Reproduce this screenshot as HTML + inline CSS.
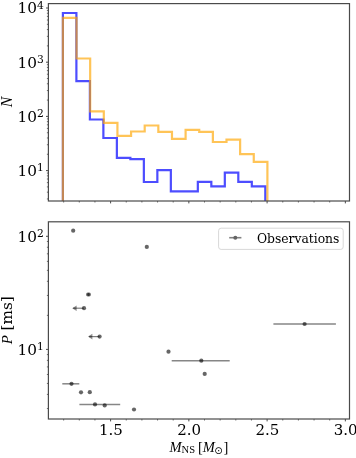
<!DOCTYPE html>
<html><head><meta charset="utf-8"><style>html,body{margin:0;padding:0;background:#fff;overflow:hidden}svg{display:block}</style></head>
<body>
<svg width="356" height="458" viewBox="0 0 356 458">
<g>
<rect width="356" height="458" fill="#fff"/>
<path d="M62.90,201.00 L62.90,13.00 L76.39,13.00 L76.39,81.20 L89.89,81.20 L89.89,119.50 L103.38,119.50 L103.38,138.00 L116.87,138.00 L116.87,157.80 L130.37,157.80 L130.37,159.10 L143.86,159.10 L143.86,182.00 L157.35,182.00 L157.35,170.20 L170.85,170.20 L170.85,191.30 L184.34,191.30 L184.34,191.30 L197.83,191.30 L197.83,181.90 L211.33,181.90 L211.33,186.40 L224.82,186.40 L224.82,172.60 L238.31,172.60 L238.31,181.80 L251.81,181.80 L251.81,186.30 L265.30,186.30 L265.30,201.00" fill="none" stroke="rgb(77,77,255)" stroke-width="2.2" stroke-linejoin="miter"/>
<path d="M62.90,201.00 L62.90,17.80 L76.53,17.80 L76.53,58.50 L90.17,58.50 L90.17,111.30 L103.80,111.30 L103.80,122.90 L117.43,122.90 L117.43,135.80 L131.07,135.80 L131.07,131.50 L144.70,131.50 L144.70,125.50 L158.33,125.50 L158.33,131.80 L171.97,131.80 L171.97,138.80 L185.60,138.80 L185.60,129.80 L199.23,129.80 L199.23,131.80 L212.87,131.80 L212.87,142.00 L226.50,142.00 L226.50,139.60 L240.13,139.60 L240.13,154.20 L253.77,154.20 L253.77,161.80 L267.40,161.80 L267.40,201.00" fill="none" stroke="rgb(255,165,0)" stroke-opacity="0.66" stroke-width="2.2" stroke-linejoin="miter"/>
<rect x="48.4" y="3.6" width="301.1" height="197.4" fill="none" stroke="#4a4a4a" stroke-width="1.2"/>
<rect x="48.4" y="221.8" width="301.1" height="197.2" fill="none" stroke="#4a4a4a" stroke-width="1.2"/>
<line x1="63.65" y1="201.0" x2="63.65" y2="202.5" stroke="#4a4a4a" stroke-width="0.8"/>
<line x1="79.30" y1="201.0" x2="79.30" y2="202.5" stroke="#4a4a4a" stroke-width="0.8"/>
<line x1="94.95" y1="201.0" x2="94.95" y2="202.5" stroke="#4a4a4a" stroke-width="0.8"/>
<line x1="110.60" y1="201.0" x2="110.60" y2="203.4" stroke="#4a4a4a" stroke-width="1.0"/>
<line x1="126.25" y1="201.0" x2="126.25" y2="202.5" stroke="#4a4a4a" stroke-width="0.8"/>
<line x1="141.90" y1="201.0" x2="141.90" y2="202.5" stroke="#4a4a4a" stroke-width="0.8"/>
<line x1="157.55" y1="201.0" x2="157.55" y2="202.5" stroke="#4a4a4a" stroke-width="0.8"/>
<line x1="173.20" y1="201.0" x2="173.20" y2="202.5" stroke="#4a4a4a" stroke-width="0.8"/>
<line x1="188.85" y1="201.0" x2="188.85" y2="203.4" stroke="#4a4a4a" stroke-width="1.0"/>
<line x1="204.50" y1="201.0" x2="204.50" y2="202.5" stroke="#4a4a4a" stroke-width="0.8"/>
<line x1="220.15" y1="201.0" x2="220.15" y2="202.5" stroke="#4a4a4a" stroke-width="0.8"/>
<line x1="235.80" y1="201.0" x2="235.80" y2="202.5" stroke="#4a4a4a" stroke-width="0.8"/>
<line x1="251.45" y1="201.0" x2="251.45" y2="202.5" stroke="#4a4a4a" stroke-width="0.8"/>
<line x1="267.10" y1="201.0" x2="267.10" y2="203.4" stroke="#4a4a4a" stroke-width="1.0"/>
<line x1="282.75" y1="201.0" x2="282.75" y2="202.5" stroke="#4a4a4a" stroke-width="0.8"/>
<line x1="298.40" y1="201.0" x2="298.40" y2="202.5" stroke="#4a4a4a" stroke-width="0.8"/>
<line x1="314.05" y1="201.0" x2="314.05" y2="202.5" stroke="#4a4a4a" stroke-width="0.8"/>
<line x1="329.70" y1="201.0" x2="329.70" y2="202.5" stroke="#4a4a4a" stroke-width="0.8"/>
<line x1="345.35" y1="201.0" x2="345.35" y2="203.4" stroke="#4a4a4a" stroke-width="1.0"/>
<line x1="63.65" y1="419.0" x2="63.65" y2="420.5" stroke="#4a4a4a" stroke-width="0.8"/>
<line x1="79.30" y1="419.0" x2="79.30" y2="420.5" stroke="#4a4a4a" stroke-width="0.8"/>
<line x1="94.95" y1="419.0" x2="94.95" y2="420.5" stroke="#4a4a4a" stroke-width="0.8"/>
<line x1="110.60" y1="419.0" x2="110.60" y2="421.4" stroke="#4a4a4a" stroke-width="1.0"/>
<line x1="126.25" y1="419.0" x2="126.25" y2="420.5" stroke="#4a4a4a" stroke-width="0.8"/>
<line x1="141.90" y1="419.0" x2="141.90" y2="420.5" stroke="#4a4a4a" stroke-width="0.8"/>
<line x1="157.55" y1="419.0" x2="157.55" y2="420.5" stroke="#4a4a4a" stroke-width="0.8"/>
<line x1="173.20" y1="419.0" x2="173.20" y2="420.5" stroke="#4a4a4a" stroke-width="0.8"/>
<line x1="188.85" y1="419.0" x2="188.85" y2="421.4" stroke="#4a4a4a" stroke-width="1.0"/>
<line x1="204.50" y1="419.0" x2="204.50" y2="420.5" stroke="#4a4a4a" stroke-width="0.8"/>
<line x1="220.15" y1="419.0" x2="220.15" y2="420.5" stroke="#4a4a4a" stroke-width="0.8"/>
<line x1="235.80" y1="419.0" x2="235.80" y2="420.5" stroke="#4a4a4a" stroke-width="0.8"/>
<line x1="251.45" y1="419.0" x2="251.45" y2="420.5" stroke="#4a4a4a" stroke-width="0.8"/>
<line x1="267.10" y1="419.0" x2="267.10" y2="421.4" stroke="#4a4a4a" stroke-width="1.0"/>
<line x1="282.75" y1="419.0" x2="282.75" y2="420.5" stroke="#4a4a4a" stroke-width="0.8"/>
<line x1="298.40" y1="419.0" x2="298.40" y2="420.5" stroke="#4a4a4a" stroke-width="0.8"/>
<line x1="314.05" y1="419.0" x2="314.05" y2="420.5" stroke="#4a4a4a" stroke-width="0.8"/>
<line x1="329.70" y1="419.0" x2="329.70" y2="420.5" stroke="#4a4a4a" stroke-width="0.8"/>
<line x1="345.35" y1="419.0" x2="345.35" y2="421.4" stroke="#4a4a4a" stroke-width="1.0"/>
<line x1="46.9" y1="198.94" x2="48.4" y2="198.94" stroke="#4a4a4a" stroke-width="0.8"/>
<line x1="46.9" y1="192.17" x2="48.4" y2="192.17" stroke="#4a4a4a" stroke-width="0.8"/>
<line x1="46.9" y1="186.92" x2="48.4" y2="186.92" stroke="#4a4a4a" stroke-width="0.8"/>
<line x1="46.9" y1="182.62" x2="48.4" y2="182.62" stroke="#4a4a4a" stroke-width="0.8"/>
<line x1="46.9" y1="179.00" x2="48.4" y2="179.00" stroke="#4a4a4a" stroke-width="0.8"/>
<line x1="46.9" y1="175.85" x2="48.4" y2="175.85" stroke="#4a4a4a" stroke-width="0.8"/>
<line x1="46.9" y1="173.08" x2="48.4" y2="173.08" stroke="#4a4a4a" stroke-width="0.8"/>
<line x1="46.0" y1="170.60" x2="48.4" y2="170.60" stroke="#4a4a4a" stroke-width="1.0"/>
<line x1="46.9" y1="154.28" x2="48.4" y2="154.28" stroke="#4a4a4a" stroke-width="0.8"/>
<line x1="46.9" y1="144.74" x2="48.4" y2="144.74" stroke="#4a4a4a" stroke-width="0.8"/>
<line x1="46.9" y1="137.97" x2="48.4" y2="137.97" stroke="#4a4a4a" stroke-width="0.8"/>
<line x1="46.9" y1="132.72" x2="48.4" y2="132.72" stroke="#4a4a4a" stroke-width="0.8"/>
<line x1="46.9" y1="128.42" x2="48.4" y2="128.42" stroke="#4a4a4a" stroke-width="0.8"/>
<line x1="46.9" y1="124.80" x2="48.4" y2="124.80" stroke="#4a4a4a" stroke-width="0.8"/>
<line x1="46.9" y1="121.65" x2="48.4" y2="121.65" stroke="#4a4a4a" stroke-width="0.8"/>
<line x1="46.9" y1="118.88" x2="48.4" y2="118.88" stroke="#4a4a4a" stroke-width="0.8"/>
<line x1="46.0" y1="116.40" x2="48.4" y2="116.40" stroke="#4a4a4a" stroke-width="1.0"/>
<line x1="46.9" y1="100.08" x2="48.4" y2="100.08" stroke="#4a4a4a" stroke-width="0.8"/>
<line x1="46.9" y1="90.54" x2="48.4" y2="90.54" stroke="#4a4a4a" stroke-width="0.8"/>
<line x1="46.9" y1="83.77" x2="48.4" y2="83.77" stroke="#4a4a4a" stroke-width="0.8"/>
<line x1="46.9" y1="78.52" x2="48.4" y2="78.52" stroke="#4a4a4a" stroke-width="0.8"/>
<line x1="46.9" y1="74.22" x2="48.4" y2="74.22" stroke="#4a4a4a" stroke-width="0.8"/>
<line x1="46.9" y1="70.60" x2="48.4" y2="70.60" stroke="#4a4a4a" stroke-width="0.8"/>
<line x1="46.9" y1="67.45" x2="48.4" y2="67.45" stroke="#4a4a4a" stroke-width="0.8"/>
<line x1="46.9" y1="64.68" x2="48.4" y2="64.68" stroke="#4a4a4a" stroke-width="0.8"/>
<line x1="46.0" y1="62.20" x2="48.4" y2="62.20" stroke="#4a4a4a" stroke-width="1.0"/>
<line x1="46.9" y1="45.88" x2="48.4" y2="45.88" stroke="#4a4a4a" stroke-width="0.8"/>
<line x1="46.9" y1="36.34" x2="48.4" y2="36.34" stroke="#4a4a4a" stroke-width="0.8"/>
<line x1="46.9" y1="29.57" x2="48.4" y2="29.57" stroke="#4a4a4a" stroke-width="0.8"/>
<line x1="46.9" y1="24.32" x2="48.4" y2="24.32" stroke="#4a4a4a" stroke-width="0.8"/>
<line x1="46.9" y1="20.02" x2="48.4" y2="20.02" stroke="#4a4a4a" stroke-width="0.8"/>
<line x1="46.9" y1="16.40" x2="48.4" y2="16.40" stroke="#4a4a4a" stroke-width="0.8"/>
<line x1="46.9" y1="13.25" x2="48.4" y2="13.25" stroke="#4a4a4a" stroke-width="0.8"/>
<line x1="46.9" y1="10.48" x2="48.4" y2="10.48" stroke="#4a4a4a" stroke-width="0.8"/>
<line x1="46.0" y1="8.00" x2="48.4" y2="8.00" stroke="#4a4a4a" stroke-width="1.0"/>
<line x1="46.9" y1="408.54" x2="48.4" y2="408.54" stroke="#4a4a4a" stroke-width="0.8"/>
<line x1="46.9" y1="394.41" x2="48.4" y2="394.41" stroke="#4a4a4a" stroke-width="0.8"/>
<line x1="46.9" y1="383.45" x2="48.4" y2="383.45" stroke="#4a4a4a" stroke-width="0.8"/>
<line x1="46.9" y1="374.49" x2="48.4" y2="374.49" stroke="#4a4a4a" stroke-width="0.8"/>
<line x1="46.9" y1="366.92" x2="48.4" y2="366.92" stroke="#4a4a4a" stroke-width="0.8"/>
<line x1="46.9" y1="360.36" x2="48.4" y2="360.36" stroke="#4a4a4a" stroke-width="0.8"/>
<line x1="46.9" y1="354.58" x2="48.4" y2="354.58" stroke="#4a4a4a" stroke-width="0.8"/>
<line x1="46.0" y1="349.40" x2="48.4" y2="349.40" stroke="#4a4a4a" stroke-width="1.0"/>
<line x1="46.9" y1="315.35" x2="48.4" y2="315.35" stroke="#4a4a4a" stroke-width="0.8"/>
<line x1="46.9" y1="295.44" x2="48.4" y2="295.44" stroke="#4a4a4a" stroke-width="0.8"/>
<line x1="46.9" y1="281.31" x2="48.4" y2="281.31" stroke="#4a4a4a" stroke-width="0.8"/>
<line x1="46.9" y1="270.35" x2="48.4" y2="270.35" stroke="#4a4a4a" stroke-width="0.8"/>
<line x1="46.9" y1="261.39" x2="48.4" y2="261.39" stroke="#4a4a4a" stroke-width="0.8"/>
<line x1="46.9" y1="253.82" x2="48.4" y2="253.82" stroke="#4a4a4a" stroke-width="0.8"/>
<line x1="46.9" y1="247.26" x2="48.4" y2="247.26" stroke="#4a4a4a" stroke-width="0.8"/>
<line x1="46.9" y1="241.48" x2="48.4" y2="241.48" stroke="#4a4a4a" stroke-width="0.8"/>
<line x1="46.0" y1="236.30" x2="48.4" y2="236.30" stroke="#4a4a4a" stroke-width="1.0"/>
<text x="43.9" y="176.00" font-family="DejaVu Serif, serif" font-size="15.3" text-anchor="end" fill="#000">10<tspan font-size="10.7" dy="-4.7">1</tspan></text>
<text x="43.9" y="121.80" font-family="DejaVu Serif, serif" font-size="15.3" text-anchor="end" fill="#000">10<tspan font-size="10.7" dy="-4.7">2</tspan></text>
<text x="43.9" y="67.60" font-family="DejaVu Serif, serif" font-size="15.3" text-anchor="end" fill="#000">10<tspan font-size="10.7" dy="-4.7">3</tspan></text>
<text x="43.9" y="13.40" font-family="DejaVu Serif, serif" font-size="15.3" text-anchor="end" fill="#000">10<tspan font-size="10.7" dy="-4.7">4</tspan></text>
<text x="43.9" y="354.80" font-family="DejaVu Serif, serif" font-size="15.3" text-anchor="end" fill="#000">10<tspan font-size="10.7" dy="-4.7">1</tspan></text>
<text x="43.9" y="241.70" font-family="DejaVu Serif, serif" font-size="15.3" text-anchor="end" fill="#000">10<tspan font-size="10.7" dy="-4.7">2</tspan></text>
<text x="111.00" y="434.7" font-family="DejaVu Serif, serif" font-size="15" text-anchor="middle" fill="#000">1.5</text>
<text x="189.25" y="434.7" font-family="DejaVu Serif, serif" font-size="15" text-anchor="middle" fill="#000">2.0</text>
<text x="267.50" y="434.7" font-family="DejaVu Serif, serif" font-size="15" text-anchor="middle" fill="#000">2.5</text>
<text x="345.75" y="434.7" font-family="DejaVu Serif, serif" font-size="15" text-anchor="middle" fill="#000">3.0</text>
<text transform="translate(11.7,101.9) rotate(-90)" font-family="Liberation Serif, serif" font-style="italic" font-size="15.8" text-anchor="middle" fill="#000">N</text>
<text transform="translate(11.5,320.2) rotate(-90)" font-family="Liberation Serif, serif" font-size="15" text-anchor="middle" fill="#000"><tspan font-style="italic">P</tspan><tspan font-family="DejaVu Serif, serif" font-size="15.3" dx="-0.4"> [ms]</tspan></text>
<text x="169.6" y="451.6" font-family="Liberation Serif, serif" font-size="14.5" font-style="italic" fill="#000">M</text>
<text x="181.6" y="453.1" font-family="Liberation Serif, serif" font-size="10.5" font-style="normal" fill="#000">NS</text>
<text x="198.0" y="451.6" font-family="Liberation Serif, serif" font-size="14.5" font-style="normal" fill="#000">[</text>
<text x="202.8" y="451.6" font-family="Liberation Serif, serif" font-size="14.5" font-style="italic" fill="#000">M</text>
<text x="214.2" y="453.6" font-family="DejaVu Sans, sans-serif" font-size="10" font-style="normal" fill="#000">⊙</text>
<text x="223.6" y="451.6" font-family="Liberation Serif, serif" font-size="14.5" font-style="normal" fill="#000">]</text>
<line x1="62.3" y1="383.8" x2="79.3" y2="383.8" stroke="rgb(134,134,134)" stroke-width="1.5"/>
<line x1="79.4" y1="404.4" x2="120.2" y2="404.4" stroke="rgb(134,134,134)" stroke-width="1.5"/>
<line x1="171.7" y1="360.7" x2="229.7" y2="360.7" stroke="rgb(134,134,134)" stroke-width="1.5"/>
<line x1="273.4" y1="324.0" x2="335.9" y2="324.0" stroke="rgb(134,134,134)" stroke-width="1.5"/>
<line x1="84.0" y1="308.2" x2="73.2" y2="308.2" stroke="#000" stroke-opacity="0.5" stroke-width="1.2"/>
<path d="M76.60000000000001,305.4 L72.2,308.2 L76.60000000000001,311.0 Z" fill="#000" fill-opacity="0.45"/>
<line x1="99.6" y1="336.6" x2="89.0" y2="336.6" stroke="#000" stroke-opacity="0.5" stroke-width="1.2"/>
<path d="M92.4,333.8 L88.0,336.6 L92.4,339.40000000000003 Z" fill="#000" fill-opacity="0.45"/>
<circle cx="87.9" cy="294.5" r="1.9" fill="#000" fill-opacity="0.55"/><circle cx="89.1" cy="294.5" r="1.9" fill="#000" fill-opacity="0.55"/>
<circle cx="73.2" cy="230.7" r="2.1" fill="#000" fill-opacity="0.6"/>
<circle cx="146.8" cy="246.9" r="2.1" fill="#000" fill-opacity="0.6"/>
<circle cx="84.0" cy="308.2" r="2.1" fill="#000" fill-opacity="0.6"/>
<circle cx="99.6" cy="336.6" r="2.1" fill="#000" fill-opacity="0.6"/>
<circle cx="71.5" cy="383.8" r="2.1" fill="#000" fill-opacity="0.6"/>
<circle cx="81.0" cy="392.3" r="2.1" fill="#000" fill-opacity="0.6"/>
<circle cx="89.8" cy="392.2" r="2.1" fill="#000" fill-opacity="0.6"/>
<circle cx="95.0" cy="404.4" r="2.1" fill="#000" fill-opacity="0.6"/>
<circle cx="104.7" cy="405.4" r="2.1" fill="#000" fill-opacity="0.6"/>
<circle cx="134.0" cy="409.5" r="2.1" fill="#000" fill-opacity="0.6"/>
<circle cx="168.5" cy="351.7" r="2.1" fill="#000" fill-opacity="0.6"/>
<circle cx="201.3" cy="360.7" r="2.1" fill="#000" fill-opacity="0.6"/>
<circle cx="204.7" cy="373.9" r="2.1" fill="#000" fill-opacity="0.6"/>
<circle cx="304.6" cy="324.0" r="2.1" fill="#000" fill-opacity="0.6"/>
<rect x="218.6" y="228.2" width="124.6" height="21.2" rx="2.5" fill="#fff" fill-opacity="0.8" stroke="#d8d8d8" stroke-width="1"/>
<line x1="229.2" y1="237.7" x2="241.4" y2="237.7" stroke="rgb(128,128,128)" stroke-width="1.6"/>
<circle cx="235.3" cy="237.7" r="2.0" fill="rgb(100,100,100)"/>
<text x="256.9" y="242.9" font-family="DejaVu Serif, serif" font-size="12.35" text-anchor="start" fill="#000">Observations</text>
</g></svg>
</body></html>
